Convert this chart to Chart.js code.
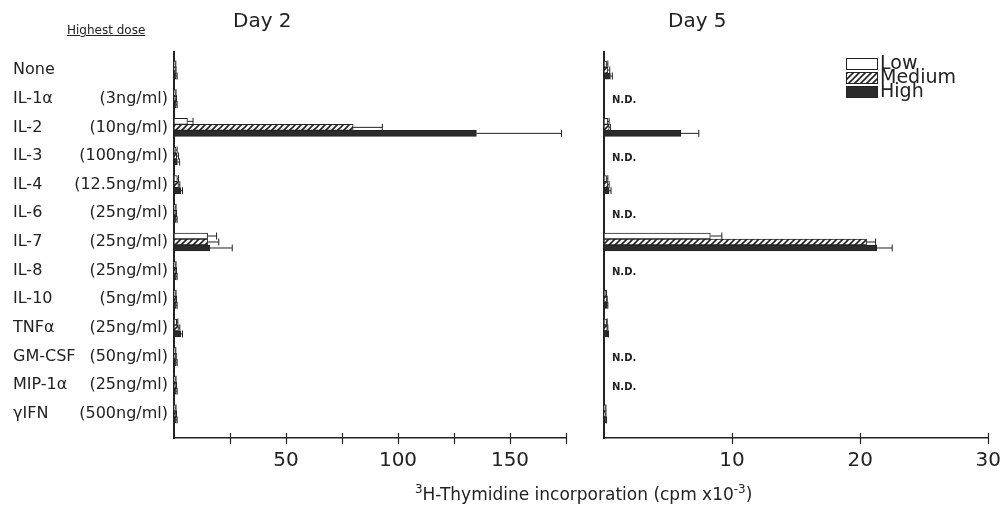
<!DOCTYPE html>
<html><head><meta charset="utf-8">
<script src="https://cdn.jsdelivr.net/npm/chart.js@4"></script>
<style>
body{margin:0;background:#fff;width:1000px;height:514px;overflow:hidden;position:relative;font-family:"DejaVu Sans",sans-serif;color:#222}
#c1{position:absolute;left:0;top:0}
#c2{position:absolute;left:590px;top:0}
.t{position:absolute;white-space:nowrap;line-height:1}
sup{font-size:0.7em;vertical-align:0.55em;line-height:0}
</style></head><body>
<canvas id="c1" width="590" height="514"></canvas>
<canvas id="c2" width="414" height="514"></canvas>
<div class="t" style="left:233px;top:10px;font-size:20px">Day 2</div>
<div class="t" style="left:668px;top:10px;font-size:20px">Day 5</div>
<div class="t" style="left:67px;top:24px;font-size:12px;text-decoration:underline">Highest dose</div>
<div class="t" style="left:415px;top:486px;font-size:17px"><sup>3</sup>H-Thymidine incorporation (cpm x10<sup>-3</sup>)</div>
<script>
const categories = ["None","IL-1α","IL-2","IL-3","IL-4","IL-6","IL-7","IL-8","IL-10","TNFα","GM-CSF","MIP-1α","γIFN"];
const doses = ["","(3ng/ml)","(10ng/ml)","(100ng/ml)","(12.5ng/ml)","(25ng/ml)","(25ng/ml)","(25ng/ml)","(5ng/ml)","(25ng/ml)","(50ng/ml)","(25ng/ml)","(500ng/ml)"];
const seriesNames = ["Low","Medium","High"];

const day2Low       = [0.5, 0.6, 6,   0.8, 1.5, 0.6, 15, 0.6, 0.6, 1.2, 0.5, 0.6, 0.6];
const day2LowErr    = [0.3, 0.3, 2.5, 0.6, 0.5, 0.3, 4,  0.3, 0.3, 0.5, 0.3, 0.3, 0.3];
const day2Medium    = [0.6, 0.8, 80,  1.2, 2,   0.8, 15, 0.8, 0.8, 2,   0.7, 0.8, 0.8];
const day2MediumErr = [0.3, 0.3, 13,  0.8, 0.6, 0.3, 5,  0.3, 0.3, 0.6, 0.3, 0.3, 0.3];
const day2High      = [1,   1,   135, 1.5, 3,   1,   16, 1,   1,   3,   1,   1,   1];
const day2HighErr   = [0.4, 0.4, 38,  1,   0.8, 0.4, 10, 0.4, 0.4, 0.8, 0.4, 0.4, 0.4];

const day5Low       = [0.2,  null, 0.3, null, 0.2,  null, 8.3, null, 0.15, 0.2,  null, null, 0.1];
const day5LowErr    = [0.1,  null, 0.1, null, 0.1,  null, 0.9, null, 0.05, 0.05, null, null, 0.05];
const day5Medium    = [0.3,  null, 0.4, null, 0.3,  null, 20.5,null, 0.2,  0.25, null, null, 0.1];
const day5MediumErr = [0.15, null, 0.1, null, 0.1,  null, 0.7, null, 0.05, 0.05, null, null, 0.05];
const day5High      = [0.5,  null, 6.0, null, 0.4,  null, 21.3,null, 0.25, 0.3,  null, null, 0.15];
const day5HighErr   = [0.15, null, 1.4, null, 0.15, null, 1.2, null, 0.05, 0.05, null, null, 0.05];

const day2Ticks = [50, 100, 150];
const day5Ticks = [10, 20, 30];

const INK = '#222';
function hatch(){
  const c=document.createElement('canvas');c.width=c.height=6;
  const g=c.getContext('2d');g.fillStyle='#fff';g.fillRect(0,0,6,6);
  g.strokeStyle=INK;g.lineWidth=1.6;g.beginPath();
  g.moveTo(0,6);g.lineTo(6,0);g.moveTo(-3,3);g.lineTo(3,-3);g.moveTo(3,9);g.lineTo(9,3);g.stroke();
  return g.createPattern(c,'repeat');
}
const fills = ['#ffffff', hatch(), '#2b2b2b'];

function pts(vals, errs){
  return vals.map((v,i)=>({x:v,y:i,e:errs[i]})).filter(d=>d.x!=null);
}
function makeDatasets(lists){
  return lists.map((l,k)=>({
    label: seriesNames[k], data: pts(l[0], l[1]),
    backgroundColor: fills[k], borderColor: INK, borderWidth: 1,
    barThickness: 6, borderSkipped: false
  }));
}

const errorBars = {id:'errorBars', afterDatasetsDraw(chart){
  const ctx=chart.ctx, xs=chart.scales.x;
  chart.data.datasets.forEach((ds,di)=>{
    const meta=chart.getDatasetMeta(di);
    meta.data.forEach((bar,i)=>{
      const d=ds.data[i]; if(!d||!d.e) return;
      const xe=xs.getPixelForValue(d.x+d.e);
      ctx.save();ctx.strokeStyle=INK;ctx.lineWidth=1;ctx.beginPath();
      ctx.moveTo(bar.x,bar.y);ctx.lineTo(xe,bar.y);
      ctx.moveTo(xe,bar.y-3.5);ctx.lineTo(xe,bar.y+3.5);ctx.stroke();ctx.restore();
    });
  });
}};
const crossTicks = {id:'crossTicks', afterDraw(chart){
  const ctx=chart.ctx, xs=chart.scales.x, y0=chart.chartArea.bottom;
  ctx.save();ctx.strokeStyle=INK;ctx.lineWidth=1.2;ctx.beginPath();
  xs.ticks.forEach(t=>{ if(t.value<=0) return; const px=Math.round(xs.getPixelForValue(t.value))+0.5;
    ctx.moveTo(px,y0-5);ctx.lineTo(px,y0+6);});
  ctx.stroke();ctx.restore();
}};
const catLabels = {id:'catLabels', afterDraw(chart){
  const ctx=chart.ctx, ys=chart.scales.y;
  ctx.save();ctx.fillStyle=INK;ctx.font='16px "DejaVu Sans"';ctx.textBaseline='middle';
  categories.forEach((c,i)=>{
    const y=ys.getPixelForValue(i);
    ctx.textAlign='left';ctx.fillText(c,13,y);
    ctx.textAlign='right';ctx.fillText(doses[i],168,y);
  });
  ctx.restore();
}};
const ndLabels = {id:'ndLabels', afterDraw(chart){
  const ctx=chart.ctx, ys=chart.scales.y, xs=chart.scales.x;
  ctx.save();ctx.fillStyle=INK;ctx.font='bold 10px "DejaVu Sans"';ctx.textBaseline='middle';ctx.textAlign='left';
  day5Low.forEach((v,i)=>{ if(v==null) ctx.fillText('N.D.', xs.getPixelForValue(0)+8, ys.getPixelForValue(i)+2); });
  ctx.restore();
}};
const boxLegend = {id:'boxLegend', afterDraw(chart){
  const ctx=chart.ctx;
  ctx.save();ctx.font='19px "DejaVu Sans"';ctx.textBaseline='middle';ctx.textAlign='left';
  chart.data.datasets.forEach((ds,k)=>{
    const x=256, y=58+k*14;
    ctx.fillStyle=ds.backgroundColor;ctx.fillRect(x,y,32,12);
    ctx.strokeStyle=INK;ctx.lineWidth=1;ctx.strokeRect(x+0.5,y+0.5,31,11);
    ctx.fillStyle=INK;ctx.fillText(ds.label,x+34,y+6);
  });
  ctx.restore();
}};

function makeChart(id, datasets, xmax, step, labelTicks, padLeft, padRight, extra){
  return new Chart(document.getElementById(id), {
    type:'bar',
    data:{datasets},
    options:{
      indexAxis:'y', responsive:false, animation:false,
      layout:{padding:{left:padLeft,right:padRight,top:52,bottom:0}},
      plugins:{legend:{display:false},tooltip:{enabled:false}},
      scales:{
        y:{type:'linear',reverse:true,min:-0.63,max:12.84,offset:false,
           ticks:{display:false},grid:{display:false,offset:false},
           border:{display:true,color:INK,width:2},
           afterFit(s){s.width=0;}},
        x:{type:'linear',position:'bottom',min:0,max:xmax,offset:false,
           ticks:{stepSize:step,autoSkip:false,maxRotation:0,color:INK,padding:3,
                  font:{family:'DejaVu Sans',size:20},
                  callback:v=>labelTicks.includes(v)?String(v):''},
           grid:{display:false},
           border:{display:true,color:INK,width:1.5},
           afterFit(s){s.height=76;}}
      }
    },
    plugins:[errorBars,crossTicks].concat(extra)
  });
}

makeChart('c1', makeDatasets([[day2Low,day2LowErr],[day2Medium,day2MediumErr],[day2High,day2HighErr]]),
  175, 25, day2Ticks, 174, 24, [catLabels]);
makeChart('c2', makeDatasets([[day5Low,day5LowErr],[day5Medium,day5MediumErr],[day5High,day5HighErr]]),
  30, 10, day5Ticks, 14, 0, [ndLabels, boxLegend]);
</script>
</body></html>
